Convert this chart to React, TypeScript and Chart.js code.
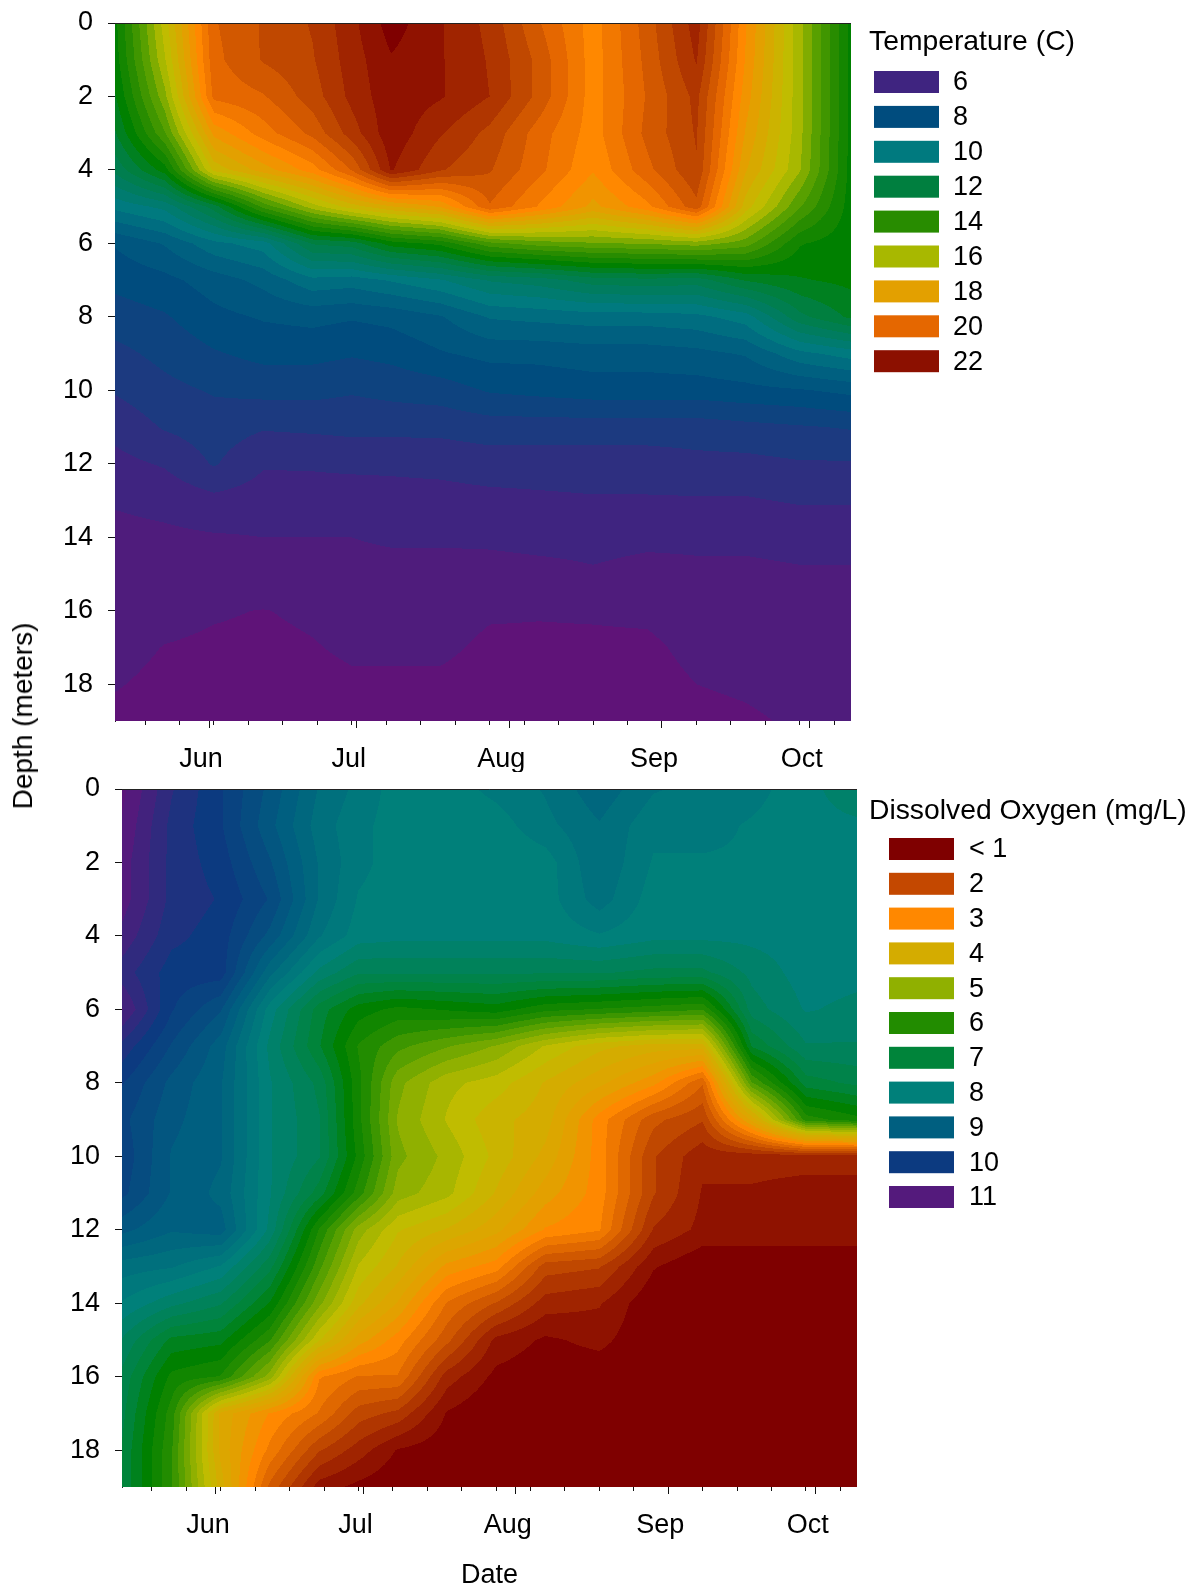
import React, {FC, ReactElement, useEffect, useRef} from 'react';
import {Chart, registerables} from 'chart.js';

Chart.register(...registerables);

// day of year of each sampling trip
const stationDays = [132.9, 143, 153, 163, 173, 181, 189, 199, 209, 219, 230, 241, 251, 261, 272, 283];
const depths = [0, 1, 2, 3, 4, 5, 6, 7, 8, 9, 10, 11, 12, 13, 14, 15, 16, 17, 18, 19];

const monthDays = [152, 182, 213, 244, 274];
const monthLabels = ['Jun', 'Jul', 'Aug', 'Sep', 'Oct'];
const weekDays = [139, 146, 153, 160, 167, 174, 181, 188, 195, 202, 209, 216, 223, 230, 237, 251, 258, 265, 272, 279];
const depthTicks = [0, 2, 4, 6, 8, 10, 12, 14, 16, 18];

// one row per depth, one column per station
const temperature = [
    [13.1, 16.5, 20.2, 20.8, 21.3, 22.1, 23, 22.3, 21.6, 20.3, 19, 20.5, 22, 18.8, 15.9, 12.9],
    [13, 16.2, 20.1, 20.8, 21.2, 22, 22.7, 22.3, 21.7, 20.6, 19, 20.4, 21.8, 18.7, 15.9, 12.9],
    [12.7, 15.6, 19.9, 20.2, 21, 21.9, 22.6, 22.3, 21.75, 20.6, 19, 20.3, 21.4, 18.5, 15.9, 12.9],
    [12.2, 14.7, 18.4, 19.5, 20.4, 21.5, 22.6, 21.8, 21.1, 20, 19, 20.4, 21.3, 18.2, 15.9, 12.9],
    [11.4, 13, 16.9, 18, 19, 20.3, 22.3, 21.3, 20.8, 19.9, 18.8, 20.1, 21.2, 17.8, 15.8, 12.9],
    [9.9, 10.4, 12, 14.4, 16, 17, 17.7, 18.3, 20.2, 19.2, 18.1, 19.1, 20.6, 17, 14.8, 12.9],
    [8.3, 8.8, 9.6, 10, 11.8, 12, 13, 13.4, 14.6, 15, 15.2, 15.3, 15.5, 15, 13.3, 12.9],
    [7.9, 8.1, 8.5, 8.9, 9.6, 9.5, 9.8, 10.2, 10.8, 11, 11.5, 11.6, 11.5, 12.3, 12.7, 12.9],
    [7.5, 7.7, 8.1, 8.3, 8.4, 8.3, 8.4, 8.7, 9.3, 9.4, 9.5, 9.5, 9.6, 10, 11.6, 12.4],
    [7.1, 7.4, 7.7, 7.9, 7.9, 7.8, 7.9, 8.2, 8.4, 8.4, 8.5, 8.5, 8.6, 8.8, 9.6, 10],
    [6.8, 7.1, 7.3, 7.4, 7.4, 7.3, 7.4, 7.5, 7.8, 7.9, 8, 8, 8, 8.1, 8.2, 8.4],
    [6.4, 6.8, 7, 6.8, 6.85, 6.9, 6.9, 6.9, 7, 7, 7, 7, 7, 7.1, 7.2, 7.3],
    [6.1, 6.3, 6.8, 6.3, 6.3, 6.35, 6.35, 6.4, 6.5, 6.5, 6.5, 6.5, 6.6, 6.6, 6.7, 6.7],
    [5.8, 5.9, 6.1, 6, 6.05, 6, 6.05, 6.05, 6.1, 6.15, 6.2, 6.2, 6.2, 6.2, 6.3, 6.3],
    [5.6, 5.65, 5.7, 5.75, 5.75, 5.75, 5.85, 5.85, 5.85, 5.9, 5.9, 5.85, 5.85, 5.85, 5.9, 5.9],
    [5.5, 5.5, 5.5, 5.5, 5.5, 5.5, 5.5, 5.5, 5.55, 5.6, 5.7, 5.6, 5.65, 5.65, 5.7, 5.7],
    [5.42, 5.35, 5.28, 5.24, 5.3, 5.36, 5.36, 5.36, 5.28, 5.27, 5.28, 5.3, 5.38, 5.4, 5.45, 5.5],
    [5.35, 5.24, 5.2, 5.18, 5.23, 5.3, 5.3, 5.3, 5.2, 5.2, 5.2, 5.2, 5.32, 5.35, 5.42, 5.47],
    [5.27, 5.18, 5.15, 5.15, 5.15, 5.2, 5.2, 5.2, 5.15, 5.15, 5.15, 5.15, 5.25, 5.3, 5.37, 5.43],
    [5.18, 5.1, 5.1, 5.1, 5.1, 5.1, 5.1, 5.1, 5.1, 5.1, 5.1, 5.1, 5.15, 5.2, 5.3, 5.38],
];

const oxygen = [
    [11.2, 10.4, 9.9, 9.3, 8.6, 8.3, 8, 8, 8.2, 8.4, 8.8, 8.4, 8.3, 8.2, 8, 7.6],
    [11.1, 10.3, 9.9, 9.2, 8.5, 8.2, 8, 7.9, 8, 8.3, 8.6, 8.2, 8.2, 8.1, 8, 7.95],
    [11, 10.3, 10, 9.4, 8.6, 8.2, 8, 7.9, 7.9, 8, 8.6, 8.1, 8.1, 8.1, 8, 7.95],
    [11, 10.3, 10.1, 9.6, 8.6, 8.1, 8, 8, 8, 8, 8.5, 8, 8.1, 8, 8, 7.95],
    [10.8, 10.2, 10, 9.3, 8.4, 8, 7.95, 7.95, 7.95, 7.95, 8.1, 7.95, 7.95, 7.95, 8, 7.95],
    [10.5, 10, 10, 8.7, 7.8, 7.4, 7.4, 7.4, 7.4, 7.4, 7.4, 7.3, 7.3, 7.7, 8, 7.95],
    [10.9, 9.9, 9.4, 8, 7, 6.5, 6.3, 6.4, 6.5, 6.2, 6.1, 6, 5.9, 7.5, 7.9, 7.8],
    [10.3, 9.6, 9, 7.8, 6.9, 6.1, 5.7, 5.4, 5.1, 4.6, 4.2, 4, 4, 6.9, 7.6, 7.6],
    [9.9, 9.3, 8.9, 7.9, 7.3, 6.2, 5.2, 4.7, 4.5, 4.1, 3.7, 3.2, 2.4, 5.6, 7, 7.2],
    [9.7, 9.2, 8.9, 7.9, 7.4, 6.2, 5.1, 4.6, 4.2, 4, 3, 2.2, 1.9, 3.7, 6, 6.3],
    [9.8, 9.1, 8.9, 7.9, 7.4, 6.3, 5.2, 4.8, 4.3, 3.8, 3, 1.9, 1.45, 1.45, 1.45, 1.45],
    [9.7, 9.1, 8.8, 7.9, 7, 6, 5, 4.7, 4.1, 3.5, 3, 1.9, 1.35, 1.35, 1.3, 1.3],
    [9.2, 8.9, 9, 7.8, 6.1, 5, 4.4, 4.1, 3.7, 3.1, 2.9, 1.6, 1.3, 1.3, 1.3, 1.3],
    [8.5, 8.4, 8.1, 7.2, 5.7, 4.6, 4.1, 3.3, 3, 2, 1.9, 1.15, 0.9, 0.9, 0.9, 0.9],
    [8.1, 7.7, 7.4, 6.6, 5.2, 4.2, 3.6, 2.6, 2.1, 1.5, 1.4, 0.9, 0.9, 0.9, 0.9, 0.9],
    [7.6, 6.8, 6.7, 5.9, 4.4, 3.5, 3, 2.2, 1.3, 1.08, 1.2, 0.9, 0.9, 0.9, 0.9, 0.9],
    [7.3, 6.3, 6.1, 5, 2.9, 2.6, 2.6, 1.5, 1.05, 0.95, 0.95, 0.9, 0.9, 0.9, 0.9, 0.9],
    [7.2, 6, 3.8, 3.1, 2.6, 2, 1.8, 1.1, 0.85, 0.85, 0.85, 0.85, 0.85, 0.85, 0.85, 0.85],
    [7.1, 5.9, 3.8, 2.8, 1.9, 1.5, 1.1, 0.95, 0.8, 0.8, 0.8, 0.8, 0.8, 0.8, 0.8, 0.8],
    [7.1, 5.9, 4, 2.3, 1.25, 1.05, 0.9, 0.8, 0.8, 0.8, 0.8, 0.8, 0.8, 0.8, 0.8, 0.8],
];

// colour ramps: value -> colour, contour bands are step wide
const tempRampValues = [5, 6, 7, 8, 9, 10, 12, 13, 14, 15, 16, 16.5, 18, 19, 20, 21, 22, 23];
const tempRampColors = ['#5f1378', '#3f2480', '#1c3a80', '#004c7e', '#006080', '#007a7f', '#007f3f', '#008000', '#288c00', '#58a000', '#a8b800', '#c0bc00', '#e3a000', '#ff8800', '#e56700', '#c04800', '#a02400', '#7f0000'];
const oxyRampValues = [1, 2, 3, 3.5, 4, 4.5, 5, 5.5, 6, 6.5, 7, 8, 9, 10, 11, 11.5];
const oxyRampColors = ['#7f0000', '#c04800', '#ff8800', '#e3a000', '#d4ac00', '#c0bc00', '#90b000', '#58a000', '#228c00', '#008000', '#00843a', '#00807a', '#005f80', '#0c3a80', '#541a7c', '#5f1378'];

const tempKeyLabels = ['6', '8', '10', '12', '14', '16', '18', '20', '22'];
const tempKeyColors = ['#3f2480', '#004c7e', '#007a7f', '#007f3f', '#288c00', '#a8b800', '#e3a000', '#e56700', '#8c1000'];
const oxyKeyLabels = ['< 1', '2', '3', '4', '5', '6', '7', '8', '9', '10', '11'];
const oxyKeyColors = ['#7f0000', '#c44800', '#ff8800', '#d4ac00', '#90b000', '#228c00', '#00843a', '#00807a', '#005f80', '#0c3a80', '#541a7c'];

const FONT = '"Liberation Sans", Arial, sans-serif';
const TEXT_SIZE = 27;

const hexToRgb = (hex: string): number[] => [1, 3, 5].map((i) => parseInt(hex.slice(i, i + 2), 16));

const rampColor = (v: number, values: number[], colors: number[][]): number[] => {
    if (v <= values[0]) return colors[0];
    for (let i = 1; i < values.length; i++) {
        if (v <= values[i]) {
            const t = (v - values[i - 1]) / (values[i] - values[i - 1]);
            return colors[i].map((c, k) => colors[i - 1][k] + (c - colors[i - 1][k]) * t);
        }
    }
    return colors[colors.length - 1];
};

// index and fraction of v inside a sorted list
const locate = (v: number, list: number[]): [number, number] => {
    let i = 0;
    while (i < list.length - 2 && v > list[i + 1]) i++;
    const f = (v - list[i]) / (list[i + 1] - list[i]);
    return [i, Math.max(0, Math.min(1, f))];
};

interface PanelProps {
    grid: number[][];
    rampValues: number[];
    rampColors: string[];
    step: number;
    keyTitle: string;
    keyLabels: string[];
    keyColors: string[];
    keyBoxX: number;
    keyTextX: number;
    keyTitleY: number;
    keyBoxY: number;
    keyRowGap: number;
    plotLeft: number;
    plotRight: number;
    plotTop: number;
    plotBottom: number;
    top: number;
    height: number;
    xTitle?: string;
}

const contourPlugin = (p: PanelProps) => ({
    id: 'contour',
    beforeDatasetsDraw(chart: Chart) {
        const {ctx, chartArea, scales} = chart;
        const w = Math.round(chartArea.right - chartArea.left);
        const h = Math.round(chartArea.bottom - chartArea.top);
        const colors = p.rampColors.map(hexToRgb);
        const img = ctx.createImageData(w, h);
        const cols = [];
        for (let px = 0; px < w; px++) cols.push(locate(scales.x.getValueForPixel(chartArea.left + px + 0.5) as number, stationDays));
        for (let py = 0; py < h; py++) {
            const [r, fy] = locate(scales.y.getValueForPixel(chartArea.top + py + 0.5) as number, depths);
            for (let px = 0; px < w; px++) {
                const [c, fx] = cols[px];
                const upper = p.grid[r][c] * (1 - fx) + p.grid[r][c + 1] * fx;
                const lower = p.grid[r + 1][c] * (1 - fx) + p.grid[r + 1][c + 1] * fx;
                const v = upper * (1 - fy) + lower * fy;
                const rgb = rampColor(Math.round(v / p.step) * p.step, p.rampValues, colors);
                const o = (py * w + px) * 4;
                img.data[o] = rgb[0];
                img.data[o + 1] = rgb[1];
                img.data[o + 2] = rgb[2];
                img.data[o + 3] = 255;
            }
        }
        ctx.putImageData(img, Math.round(chartArea.left), Math.round(chartArea.top));
    },
    afterDraw(chart: Chart) {
        const {ctx, chartArea} = chart;
        ctx.save();
        // top frame line
        ctx.strokeStyle = '#222';
        ctx.lineWidth = 1;
        ctx.beginPath();
        ctx.moveTo(chartArea.left, chartArea.top + 0.5);
        ctx.lineTo(chartArea.right, chartArea.top + 0.5);
        ctx.stroke();
        // colour key
        ctx.fillStyle = '#000';
        ctx.textBaseline = 'middle';
        ctx.font = `28.3px ${FONT}`;
        ctx.fillText(p.keyTitle, 869, p.keyTitleY);
        ctx.font = `${TEXT_SIZE}px ${FONT}`;
        p.keyLabels.forEach((label, i) => {
            const y = p.keyBoxY + i * p.keyRowGap;
            ctx.fillStyle = p.keyColors[i];
            ctx.fillRect(p.keyBoxX, y, 65, 22);
            ctx.fillStyle = '#000';
            ctx.fillText(label, p.keyTextX, y + 12);
        });
        ctx.restore();
    },
});

const Panel: FC<PanelProps> = (props: PanelProps): ReactElement => {
    const canvasRef = useRef<HTMLCanvasElement>(null);

    useEffect(() => {
        if (!canvasRef.current) return;
        const points = depths.flatMap((d) => stationDays.map((day) => ({x: day, y: d})));
        const chart = new Chart(canvasRef.current, {
            type: 'scatter',
            data: {datasets: [{data: points, pointRadius: 0, showLine: false}]},
            plugins: [contourPlugin(props)],
            options: {
                responsive: false,
                animation: false,
                devicePixelRatio: 1,
                events: [],
                layout: {padding: {left: 0, top: props.plotTop - props.top, right: 1189 - props.plotRight, bottom: 0}},
                plugins: {legend: {display: false}, tooltip: {enabled: false}},
                scales: {
                    x: {
                        type: 'linear',
                        min: 132.9,
                        max: 282.4,
                        z: 1,
                        afterFit: (s: any) => {
                            s.height = props.top + props.height - props.plotBottom;
                            s.paddingLeft = 0;
                            s.paddingRight = 0;
                        },
                        afterBuildTicks: (s: any) => {
                            const majors = monthDays.map((value) => ({value, major: true}));
                            const minors = weekDays.map((value) => ({value, major: false}));
                            s.ticks = [...majors, ...minors].sort((a, b) => a.value - b.value);
                        },
                        border: {display: false},
                        grid: {
                            drawOnChartArea: false,
                            tickLength: 7,
                            tickColor: '#111',
                            tickBorderDash: (c: any) => (c.tick && c.tick.major ? [] : [4, 10]),
                        },
                        ticks: {
                            autoSkip: false,
                            maxRotation: 0,
                            labelOffset: -8,
                            padding: 15,
                            color: '#000',
                            font: {family: FONT, size: TEXT_SIZE},
                            callback: (value: any) => {
                                const i = monthDays.indexOf(Number(value));
                                return i >= 0 ? monthLabels[i] : '';
                            },
                        },
                        title: {
                            display: !!props.xTitle,
                            text: props.xTitle,
                            color: '#000',
                            font: {family: FONT, size: TEXT_SIZE},
                            padding: {top: 0, bottom: 3},
                        },
                    },
                    y: {
                        type: 'linear',
                        reverse: true,
                        min: 0,
                        max: 19,
                        z: 1,
                        afterFit: (s: any) => {
                            s.width = props.plotLeft;
                            s.paddingTop = 0;
                            s.paddingBottom = 0;
                        },
                        afterBuildTicks: (s: any) => {
                            s.ticks = depthTicks.map((value) => ({value}));
                        },
                        border: {display: true, color: '#222'},
                        grid: {drawOnChartArea: false, tickLength: 7, tickColor: '#111'},
                        ticks: {
                            padding: 15,
                            color: '#000',
                            font: {family: FONT, size: TEXT_SIZE},
                        },
                    },
                },
            } as any,
        });
        return () => chart.destroy();
    }, []);

    return (
        <canvas
            ref={canvasRef}
            width={1189}
            height={props.height}
            style={{position: 'absolute', left: 0, top: props.top, width: 1189, height: props.height}}
        />
    );
};

export default function App(): ReactElement {
    return (
        <div style={{position: 'absolute', left: 0, top: 0, width: 1189, height: 1589, background: '#fff', overflow: 'hidden'}}>
            <Panel
                grid={temperature}
                rampValues={tempRampValues}
                rampColors={tempRampColors}
                step={0.5}
                keyTitle="Temperature (C)"
                keyLabels={tempKeyLabels}
                keyColors={tempKeyColors}
                keyBoxX={874}
                keyTextX={953}
                keyTitleY={42}
                keyBoxY={71}
                keyRowGap={34.9}
                plotLeft={115}
                plotRight={851}
                plotTop={23}
                plotBottom={721}
                top={0}
                height={772}
            />
            <Panel
                grid={oxygen}
                rampValues={oxyRampValues}
                rampColors={oxyRampColors}
                step={0.25}
                keyTitle="Dissolved Oxygen (mg/L)"
                keyLabels={oxyKeyLabels}
                keyColors={oxyKeyColors}
                keyBoxX={889}
                keyTextX={969}
                keyTitleY={39}
                keyBoxY={66}
                keyRowGap={34.8}
                plotLeft={122}
                plotRight={857}
                plotTop={789}
                plotBottom={1487}
                top={772}
                height={823}
                xTitle="Date"
            />
            <div
                style={{
                    position: 'absolute',
                    left: 23,
                    top: 716,
                    transform: 'translate(-50%, -50%) rotate(-90deg)',
                    font: `28px ${FONT}`,
                    whiteSpace: 'nowrap',
                    color: '#000',
                }}
            >
                Depth (meters)
            </div>
        </div>
    );
}
